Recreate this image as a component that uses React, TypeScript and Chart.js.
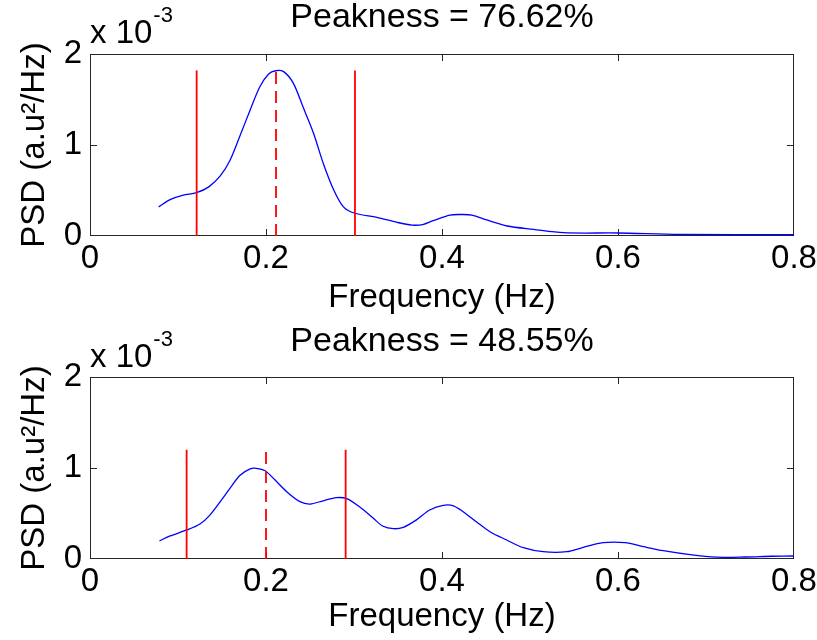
import React, { useEffect, useRef } from "react";
import { Chart, registerables } from "chart.js";

Chart.register(...registerables);

const FONT = "'Liberation Sans', Arial, Helvetica, sans-serif";

// Shared axis text
const xLabel = "Frequency (Hz)";
const yLabel = "PSD (a.u²/Hz)";
const xTicks = [0, 0.2, 0.4, 0.6, 0.8];
const yTicks = [0, 1, 2];
const expBase = "x 10";
const expPower = "-3";

// Top panel (PSD values in units of 1e-3)
const topTitle = "Peakness = 76.62%";
const topFreq = [0.078, 0.091, 0.106, 0.121, 0.135, 0.148, 0.159, 0.17, 0.182, 0.193, 0.203, 0.211, 0.22, 0.231, 0.242, 0.254, 0.265, 0.277, 0.288, 0.301, 0.326, 0.349, 0.366, 0.378, 0.39, 0.409, 0.422, 0.434, 0.451, 0.474, 0.504, 0.538, 0.6, 0.67, 0.8];
const topPsd = [0.32, 0.4, 0.45, 0.476, 0.54, 0.66, 0.83, 1.09, 1.385, 1.64, 1.78, 1.816, 1.806, 1.68, 1.42, 1.13, 0.8, 0.505, 0.32, 0.25, 0.205, 0.15, 0.12, 0.125, 0.168, 0.23, 0.236, 0.23, 0.176, 0.11, 0.073, 0.036, 0.033, 0.018, 0.015];
const topBand = [0.1212, 0.3011];
const topCenter = 0.2114;
const topMarkerHeight = 1.82;

// Bottom panel (PSD values in units of 1e-3)
const bottomTitle = "Peakness = 48.55%";
const bottomFreq = [0.079, 0.091, 0.11, 0.125, 0.136, 0.148, 0.159, 0.1705, 0.182, 0.189, 0.199, 0.21, 0.2235, 0.2386, 0.25, 0.265, 0.28, 0.2917, 0.307, 0.322, 0.333, 0.345, 0.356, 0.371, 0.386, 0.4015, 0.413, 0.424, 0.439, 0.4545, 0.4735, 0.4924, 0.515, 0.5417, 0.5606, 0.583, 0.608, 0.629, 0.6515, 0.682, 0.712, 0.745, 0.775, 0.8];
const bottomPsd = [0.2, 0.253, 0.319, 0.385, 0.48, 0.63, 0.777, 0.92, 0.99, 0.997, 0.97, 0.87, 0.74, 0.63, 0.604, 0.64, 0.674, 0.663, 0.568, 0.447, 0.36, 0.333, 0.348, 0.43, 0.538, 0.59, 0.585, 0.52, 0.41, 0.3, 0.209, 0.124, 0.08, 0.08, 0.128, 0.179, 0.179, 0.135, 0.091, 0.047, 0.02, 0.022, 0.03, 0.033];
const bottomBand = [0.1098, 0.2905];
const bottomCenter = 0.2;
const bottomMarkerHeight = 1.2;

type PanelProps = {
  title: string;
  freq: number[];
  psd: number[];
  band: number[];
  center: number;
  markerHeight: number;
  height: number;
  titlePad: { top: number; bottom: number };
  xTitleBottom: number;
  expOffset: number;
};

const framePlugin = {
  id: "frameAndExponent",
  beforeDatasetsDraw(chart: any) {
    const { ctx, chartArea, scales } = chart;
    const { left, right, top, bottom } = chartArea;
    ctx.save();
    ctx.strokeStyle = "#262626";
    ctx.lineWidth = 1;
    ctx.strokeRect(left + 0.5, top + 0.5, right - left - 1, bottom - top - 1);
    const tl = 7;
    ctx.beginPath();
    for (const v of xTicks) {
      const px = Math.round(scales.x.getPixelForValue(v)) + 0.5;
      if (px <= left + 1 || px >= right - 1) continue;
      ctx.moveTo(px, bottom);
      ctx.lineTo(px, bottom - tl);
      ctx.moveTo(px, top);
      ctx.lineTo(px, top + tl);
    }
    for (const v of yTicks) {
      const py = Math.round(scales.y.getPixelForValue(v)) + 0.5;
      if (py <= top + 1 || py >= bottom - 1) continue;
      ctx.moveTo(left, py);
      ctx.lineTo(left + tl, py);
      ctx.moveTo(right, py);
      ctx.lineTo(right - tl, py);
    }
    ctx.stroke();
    ctx.restore();
  },
  afterDraw(chart: any, _args: any, opts: any) {
    const { ctx, chartArea } = chart;
    ctx.save();
    ctx.fillStyle = "#000";
    ctx.textBaseline = "alphabetic";
    ctx.textAlign = "left";
    ctx.font = `33px ${FONT}`;
    const baseY = chartArea.top - (opts.expOffset ?? 11);
    ctx.fillText(expBase, chartArea.left, baseY);
    const w = ctx.measureText(expBase).width;
    ctx.font = `22px ${FONT}`;
    ctx.fillText(expPower, chartArea.left + w + 1, baseY - 21);
    ctx.restore();
  },
};

function Panel(props: PanelProps) {
  const ref = useRef<HTMLCanvasElement | null>(null);
  useEffect(() => {
    if (!ref.current) return;
    const curve = props.freq.map((f, i) => ({ x: f, y: props.psd[i] }));
    const marker = (f: number) => [
      { x: f, y: 0 },
      { x: f, y: props.markerHeight },
    ];
    const chart = new Chart(ref.current, {
      type: "line",
      data: {
        datasets: [
          {
            data: marker(props.band[0]),
            borderColor: "#ff0000",
            borderWidth: 1.8,
            pointRadius: 0,
            tension: 0,
            order: 1,
          },
          {
            data: marker(props.center),
            borderColor: "#ff0000",
            borderWidth: 1.8,
            borderDash: [12, 7],
            pointRadius: 0,
            tension: 0,
            order: 1,
          },
          {
            data: marker(props.band[1]),
            borderColor: "#ff0000",
            borderWidth: 1.8,
            pointRadius: 0,
            tension: 0,
            order: 1,
          },
          {
            data: curve,
            borderColor: "#0000ff",
            borderWidth: 1.3,
            pointRadius: 0,
            tension: 0.3,
            order: 2,
          },
        ],
      },
      options: {
        responsive: false,
        animation: false,
        devicePixelRatio: 1,
        layout: { padding: { left: 0, right: 23, top: 0, bottom: 0 } },
        plugins: {
          legend: { display: false },
          tooltip: { enabled: false },
          title: {
            display: true,
            text: props.title,
            fullSize: false,
            color: "#000",
            font: { family: FONT, size: 34, weight: "normal", lineHeight: 1 },
            padding: props.titlePad,
          },
          frameAndExponent: { expOffset: props.expOffset },
        } as any,
        scales: {
          x: {
            type: "linear",
            min: 0,
            max: 0.8,
            afterBuildTicks: (s: any) => {
              s.ticks = xTicks.map((v) => ({ value: v }));
            },
            afterFit: (s: any) => {
              s.height = props.height - 236;
              s.paddingLeft = 0;
              s.paddingRight = 0;
            },
            ticks: {
              callback: (v: any) => String(v),
              color: "#000",
              padding: 6.5,
              maxRotation: 0,
              autoSkip: false,
              font: { family: FONT, size: 33, lineHeight: 1 },
            },
            grid: { display: false, drawTicks: false },
            border: { display: false },
            title: {
              display: true,
              text: xLabel,
              color: "#000",
              font: { family: FONT, size: 33, lineHeight: 1 },
              padding: { top: 0, bottom: props.xTitleBottom },
            },
          },
          y: {
            type: "linear",
            min: 0,
            max: 2,
            afterBuildTicks: (s: any) => {
              s.ticks = yTicks.map((v) => ({ value: v }));
            },
            afterFit: (s: any) => {
              s.width = 90;
              s.paddingTop = 0;
              s.paddingBottom = 0;
            },
            ticks: {
              callback: (v: any) => String(v),
              color: "#000",
              padding: 8,
              font: { family: FONT, size: 33, lineHeight: 1 },
            },
            grid: { display: false, drawTicks: false },
            border: { display: false },
            title: {
              display: true,
              text: yLabel,
              color: "#000",
              font: { family: FONT, size: 33, lineHeight: 1 },
              padding: { top: 18.5, bottom: 0 },
            },
          },
        },
      } as any,
      plugins: [framePlugin],
    });
    return () => chart.destroy();
  }, []);
  return <canvas ref={ref} width={817} height={props.height} style={{ display: "block" }} />;
}

export default function App() {
  return (
    <div style={{ position: "fixed", left: 0, top: 0, width: 817, height: 640, background: "#fff" }}>
      <div style={{ position: "absolute", left: 0, top: 0 }}>
        <Panel
          title={topTitle}
          freq={topFreq}
          psd={topPsd}
          band={topBand}
          center={topCenter}
          markerHeight={topMarkerHeight}
          height={320}
          titlePad={{ top: 0.5, bottom: 19.5 }}
          xTitleBottom={6}
          expOffset={11}
        />
      </div>
      <div style={{ position: "absolute", left: 0, top: 323 }}>
        <Panel
          title={bottomTitle}
          freq={bottomFreq}
          psd={bottomPsd}
          band={bottomBand}
          center={bottomCenter}
          markerHeight={bottomMarkerHeight}
          height={317}
          titlePad={{ top: 1.5, bottom: 18.5 }}
          xTitleBottom={6.5}
          expOffset={10}
        />
      </div>
    </div>
  );
}
